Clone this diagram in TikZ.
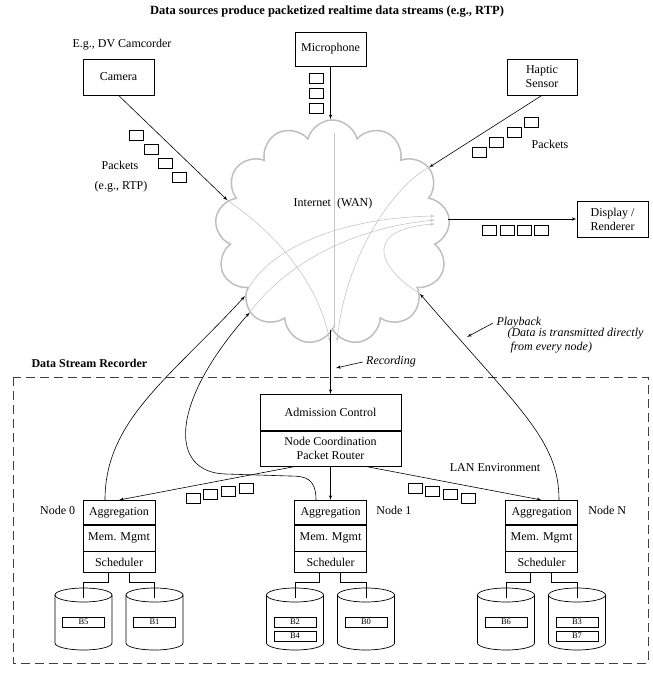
\documentclass[tikz,border=0pt]{standalone}
\usepackage{fontspec}
\setmainfont{Liberation Serif}
\usetikzlibrary{arrows, calc, shapes.symbols}

\begin{document}
\begin{tikzpicture}[x=1pt, y=-1pt,
            every node/.style={font=\fontsize{12}{14}\selectfont},
            box/.style={draw, line width=0.7pt, align=center, inner sep=0pt},
            layer/.style={draw, line width=0.7pt, minimum width=72pt, inner sep=0pt, anchor=north},
            pkt/.style={draw, line width=0.6pt, minimum width=14pt, minimum height=10pt, inner sep=0pt},
            blk/.style={draw, line width=0.5pt, minimum width=42pt, minimum height=10pt, inner sep=0pt, font=\fontsize{8.5}{9}\selectfont},
            disk/.pic={
                \draw[line width=0.7pt] (-28.5,-24) -- (-28.5,24) arc[start angle=180, end angle=360, x radius=28.5pt, y radius=7pt] -- (28.5,-24);
                \draw[line width=0.7pt] (0,-24) ellipse[x radius=28.5pt, y radius=7pt];
                \coordinate (-c) at (0,0);
                \coordinate (-in) at (0,-21);
            },
            flow/.style={->, line width=0.6pt},
            ghost/.style={->, gray!45, line width=0.6pt},
            note/.style={font=\fontsize{12}{14}\selectfont\itshape},
            heading/.style={font=\fontsize{12}{14}\selectfont\bfseries},
            >=latex']

        \useasboundingbox (0,0) rectangle (652,676);

        \node[heading, font=\fontsize{12.5}{14}\selectfont\bfseries] (title) at (327,12) {Data sources produce packetized realtime data streams (e.g., RTP)};

        \node (camnote) at (122,45) {E.g., DV Camcorder};
        \node[box, minimum width=71pt, minimum height=36pt] (camera) at (118.5,77) {Camera};
        \node[box, minimum width=71pt, minimum height=34pt] (mic) at (330.5,49) {Microphone};
        \node[box, minimum width=70pt, minimum height=36pt] (haptic) at (542,77) {Haptic\\Sensor};
        \node[box, minimum width=71pt, minimum height=36pt] (display) at (612.5,219) {Display /\\Renderer};

        \node[cloud, cloud puffs=13, draw=gray!50, line width=1.5pt, minimum width=235pt, minimum height=225pt] (wan) at (332.5,232.5) {};
        \node (wanlbl) at (333,204) {Internet\hspace{6pt}(WAN)};

        \node (pktcam) at (120,165) {Packets};
        \node (rtp) at (121,187) {(e.g., RTP)};
        \node (pkthap) at (550,144) {Packets};

        \foreach \k in {0,...,3} {
            \node[pkt] (pc\k) at ({136.5+14.3*\k},{135.5+14*\k}) {};
            \node[pkt] (ph\k) at ({531.5-17.5*\k},{122+10.2*\k}) {};
            \node[pkt] (pd\k) at ({489.5+17.3*\k},230.5) {};
            \node[pkt] (pl\k) at ({193+17.7*\k},{498-3.3*\k}) {};
            \node[pkt] (pr\k) at ({415+17.7*\k},{488+3.3*\k}) {};
        }
        \foreach \k in {0,1,2} \node[pkt] (pm\k) at (316,{78.5+14.8*\k}) {};

        \draw[flow] (camera.south) -- (wan.163);
        \draw[flow] (mic.south) -- (mic.south |- wan.north);
        \draw[flow] (haptic.south) -- (wan.34);
        \draw[flow] (display.west -| wan.east) -- (display.west);

        \coordinate (sinkA) at (330,342);
        \coordinate (sinkB) at (334,330);
        \coordinate (sinkC) at (337,342);
        \coordinate (outA) at (435,216);
        \coordinate (outB) at (435,220);
        \coordinate (outC) at (435,224);
        \draw[ghost] (wan.163) .. controls (285,240) and (320,290) .. (sinkA);
        \draw[ghost] (334,133) -- (sinkB);
        \draw[ghost] (wan.34) .. controls (395,185) and (345,255) .. (sinkC);
        \draw[ghost] (wan.216) .. controls (260,255) and (330,218) .. (outA);
        \draw[ghost] (wan.224) .. controls (285,265) and (350,228) .. (outB);
        \draw[ghost] (wan.325) .. controls (370,262) and (370,228) .. (outC);

        \node[heading, anchor=west] (dsr) at (28,363) {Data Stream Recorder};
        \draw[black!75, dash pattern=on 9pt off 5pt, line width=0.7pt] (13,377) rectangle (648,663);

        \node[box, minimum width=141pt, minimum height=36pt, anchor=north] (adm) at (330.5,394) {Admission Control};
        \node[box, minimum width=141pt, minimum height=35pt, anchor=north] (coord) at (adm.south) {Node Coordination\\Packet Router};
        \draw[flow] (adm.north |- wan.south) -- (adm.north);
        \node[note] (rec) at (391,362) {Recording};
        \coordinate (recpt) at (336,368);
        \draw[flow] (rec.west) -- (recpt);

        \foreach \i/\x in {0/119, 1/330.5, N/541.5} {
            \node[layer, minimum height=24pt] (agg\i) at (\x,500) {Aggregation};
            \node[layer, minimum height=26pt] (mem\i) at (agg\i.south) {Mem. Mgmt};
            \node[layer, minimum height=21pt] (sch\i) at (mem\i.south) {Scheduler};
            \pic (dska\i) at ({\x-35.5},619) {disk};
            \pic (dskb\i) at ({\x+35.5},619) {disk};
            \draw ($(sch\i.south)+(-11,0)$) -- ++(0,9) -| (dska\i-in);
            \draw ($(sch\i.south)+(10,0)$) -- ++(0,9) -| (dskb\i-in);
        }

        \node[blk] (b5) at ($(dska0-c)+(0,3)$) {B5};
        \node[blk] (b1) at ($(dskb0-c)+(0,3)$) {B1};
        \node[blk] (b2) at ($(dska1-c)+(0,3)$) {B2};
        \node[blk] (b4) at ($(dska1-c)+(0,17)$) {B4};
        \node[blk] (b0) at ($(dskb1-c)+(0,3)$) {B0};
        \node[blk] (b6) at ($(dskaN-c)+(0,3)$) {B6};
        \node[blk] (b3) at ($(dskbN-c)+(0,3)$) {B3};
        \node[blk] (b7) at ($(dskbN-c)+(0,17)$) {B7};

        \node[anchor=east] (lbl0) at ($(agg0.west)+(-4,-2)$) {Node 0};
        \node[anchor=west] (lbl1) at ($(agg1.east)+(6,-2)$) {Node 1};
        \node[anchor=west] (lblN) at ($(aggN.east)+(7,-2)$) {Node N};
        \node (lan) at (495,468) {LAN Environment};

        \draw[flow] ($(coord.south)+(-35,0)$) -- (agg0.north);
        \draw[flow] (coord.south) -- (agg1.north);
        \draw[flow] ($(coord.south)+(35,0)$) -- (aggN.north);

        \draw[flow] ($(agg0.north)+(-14,0)$) .. controls (105,420) and (170,378) .. (wan.216);
        \draw[flow] ($(agg1.north)+(-14.5,0)$) .. controls (316,478) and (305,476) .. (290,476) -- (225,474) .. controls (170,472) and (168,405) .. (wan.224);
        \draw[flow] ($(aggN.north)+(17.5,0)$) .. controls (559,440) and (520,410) .. (wan.325);

        \node[note, anchor=west] (play) at (493,323) {Playback};
        \coordinate (playpt) at (467,337);
        \draw[flow] (play.west) -- (playpt);
        \node[note, anchor=west, align=left] (playnote) at (504,341) {(Data is transmitted directly\\\ from every node)};
    \end{tikzpicture}
\end{document}
